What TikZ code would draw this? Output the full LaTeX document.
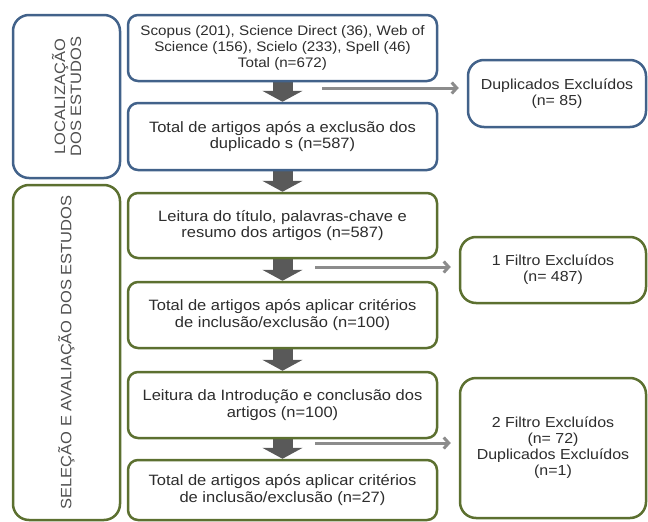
\documentclass[tikz,border=0pt]{standalone}
\usepackage{fontspec}
\setmainfont{Liberation Sans}[FakeStretch=1.1]
\usetikzlibrary{arrows.meta,backgrounds}
\definecolor{bblue}{RGB}{66,98,138}
\definecolor{ggreen}{RGB}{92,112,48}
\definecolor{darrow}{RGB}{89,89,89}
\definecolor{garrow}{RGB}{140,140,140}
\definecolor{txt}{RGB}{45,45,45}
\definecolor{lbl}{RGB}{80,80,80}
\begin{document}
\begin{tikzpicture}[x=1pt,y=-1pt,
  box/.style={draw, fill=white, line width=2.5pt, rounded corners=10pt, align=center,
    text=txt, inner sep=0pt, font=\fontsize{15}{16.5}\selectfont},
  bluebox/.style={box, draw=bblue},
  greenbox/.style={box, draw=ggreen},
  mainbox/.style={minimum width=309pt},
  sidebox/.style={rounded corners=16pt, font=\fontsize{14.5}{16}\selectfont},
  lefttxt/.style={rotate=90, align=center, text=lbl, font=\fontsize{15}{16}\selectfont},
  blockarrow/.style={draw=darrow, line width=20pt, -{Triangle[length=11pt,width=40pt]}},
  grayarrow/.style={draw=garrow, line width=3pt, -{Straight Barb[length=5pt,width=11pt]}, shorten >=8pt}
]
\useasboundingbox (0,0) rectangle (648,522);

% left section boxes
\node[bluebox, sidebox, minimum width=107pt, minimum height=163pt] (lb) at (66.5,96.5) {};
\node[lefttxt] (lbt) at (lb.center) {LOCALIZAÇÃO\\DOS ESTUDOS};
\node[greenbox, sidebox, minimum width=107pt, minimum height=335pt] (lg) at (66.5,352.5) {};
\node[lefttxt] (lgt) at (lg.center) {SELEÇÃO E AVALIAÇÃO DOS ESTUDOS};

% main boxes
\node[bluebox, mainbox, minimum height=66pt, font=\fontsize{13.8}{16}\selectfont] (b1) at (282.5,48)
  {Scopus (201), Science Direct (36), Web of\\Science (156), Scielo (233), Spell (46)\\Total (n=672)};
\node[bluebox, mainbox, minimum height=67pt] (b2) at (282.5,136.5)
  {Total de artigos após a exclusão dos\\duplicado s (n=587)};
\node[greenbox, mainbox, minimum height=65pt] (g1) at (282.5,225.5)
  {Leitura do título, palavras-chave e\\resumo dos artigos (n=587)};
\node[greenbox, mainbox, minimum height=66pt] (g2) at (282.5,315)
  {Total de artigos após aplicar critérios\\de inclusão/exclusão (n=100)};
\node[greenbox, mainbox, minimum height=66pt] (g3) at (282.5,405)
  {Leitura da Introdução e conclusão dos\\artigos (n=100)};
\node[greenbox, mainbox, minimum height=60pt] (g4) at (282.5,490)
  {Total de artigos após aplicar critérios\\de inclusão/exclusão (n=27)};

% right boxes
\node[bluebox, sidebox, minimum width=178pt, minimum height=67pt] (dup) at (557,93.5)
  {Duplicados Excluídos\\(n= 85)};
\node[greenbox, sidebox, minimum width=186pt, minimum height=66pt] (f1) at (553,270)
  {1 Filtro Excluídos\\(n= 487)};
\node[greenbox, sidebox, minimum width=186pt, minimum height=140pt] (f2) at (553,448)
  {2 Filtro Excluídos\\(n= 72)\\Duplicados Excluídos\\(n=1)};

% side arrow start points
\coordinate (s1) at (322,88);
\coordinate (s2) at (315,267);
\coordinate (s3) at (315,443);

\begin{scope}[on background layer]
  \draw[blockarrow] (b1.south) -- (b2.north);
  \draw[blockarrow] (b2.south) -- (g1.north);
  \draw[blockarrow] (g1.south) -- (g2.north);
  \draw[blockarrow] (g2.south) -- (g3.north);
  \draw[blockarrow] (g3.south) -- (g4.north);
\end{scope}

\draw[grayarrow] (s1) -- (s1 -| dup.west);
\draw[grayarrow] (s2) -- (s2 -| f1.west);
\draw[grayarrow] (s3) -- (s3 -| f2.west);
\end{tikzpicture}
\end{document}
